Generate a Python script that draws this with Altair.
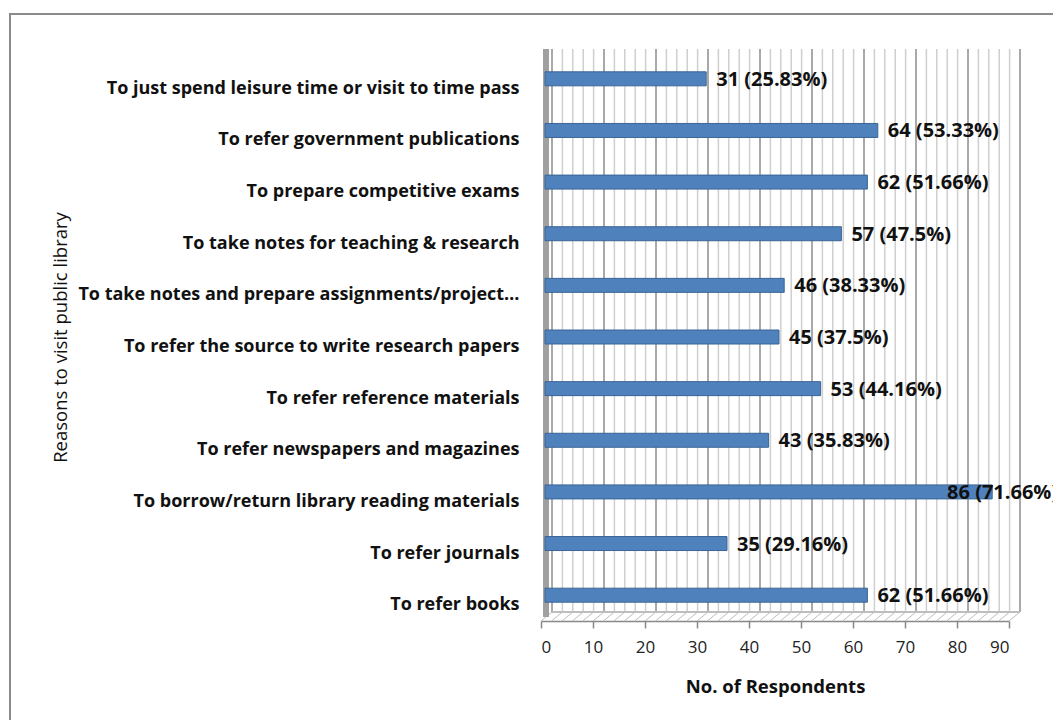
import altair as alt
import pandas as pd

reasons = [
    "To just spend leisure time or visit to time pass",
    "To refer government publications",
    "To prepare competitive exams",
    "To take notes for teaching & research ",
    "To take notes and prepare assignments/project…",
    "To refer the source to write research papers",
    "To refer reference materials",
    "To refer newspapers and magazines",
    "To borrow/return library reading materials",
    "To refer journals",
    "To refer books",
]
counts = [31, 64, 62, 57, 46, 45, 53, 43, 86, 35, 62]
percents = ["25.83", "53.33", "51.66", "47.5", "38.33", "37.5", "44.16", "35.83", "71.66", "29.16", "51.66"]
major_ticks = [0, 10, 20, 30, 40, 50, 60, 70, 80, 90]
minor_grid = [v for v in range(0, 91, 2)]

df = pd.DataFrame({"reason": reasons, "count": counts, "pct": percents})
df["label"] = df["count"].astype(str) + " (" + df["pct"] + "%)"
grid_df = pd.DataFrame({"g": minor_grid})
grid_df["major"] = grid_df["g"] % 10 == 0

FONT = "Open Sans"
W, H = 468, 568
DEPTH = 11

ysort = alt.Sort(reasons)
x_scale = alt.Scale(domain=[0, 90], nice=False, zero=True)
grid_color = alt.Color("major:N", scale=alt.Scale(domain=[True, False], range=["#8C8C8C", "#CFCFCF"]), legend=None)

grid = alt.Chart(grid_df).mark_rule(strokeWidth=1.5, xOffset=DEPTH).encode(
    x=alt.X("g:Q", scale=x_scale),
    y=alt.value(-4),
    y2=alt.value(H - 9),
    color=grid_color,
)

floor = alt.Chart(grid_df).mark_rule(strokeWidth=1, x2Offset=DEPTH, color="#BDBDBD").encode(
    x=alt.X("g:Q", scale=x_scale),
    x2="g:Q",
    y=alt.value(H),
    y2=alt.value(H - 9),
)

floor_back = alt.Chart(df).mark_rule(color="#BDBDBD", strokeWidth=1).encode(
    x=alt.value(DEPTH), x2=alt.value(W + DEPTH), y=alt.value(H - 9)
)

base = alt.Chart(df)

bars = base.mark_bar(size=14, color="#4F81BD", stroke="#3A6595", strokeWidth=1, xOffset=4).encode(
    x=alt.X(
        "count:Q",
        scale=x_scale,
        title="No. of Respondents",
        axis=alt.Axis(
            values=major_ticks,
            grid=False,
            labelOverlap=False,
            tickColor="#888888",
            tickSize=7,
            tickWidth=1.5,
            domainColor="#888888",
            domainWidth=1.5,
            labelFont=FONT,
            labelFontSize=17,
            labelColor="#222222",
            labelPadding=11,
            titleFont=FONT,
            titleFontSize=18.5,
            titleFontWeight="bold",
            titleColor="#111111",
            titlePadding=22,
        ),
    ),
    y=alt.Y(
        "reason:N",
        sort=ysort,
        title="Reasons to visit public library",
        scale=alt.Scale(paddingInner=0.0, paddingOuter=0.0),
        axis=alt.Axis(
            ticks=False,
            domain=False,
            labelFont=FONT,
            labelFontSize=18,
            labelFontWeight="bold",
            labelColor="#111111",
            labelPadding=22,
            labelLimit=600,
            labelOffset=10,
            titleFont=FONT,
            titleFontSize=18.5,
            titleFontWeight="normal",
            titleColor="#111111",
            titleX=-481,
            titleY=H / 2,
            titleAngle=-90,
            titleAlign="center",
            titleBaseline="middle",
        ),
    ),
)

labels = base.transform_calculate(
    lx="datum.count > 80 ? datum.count - 10.6 : datum.count"
).mark_text(
    align="left", baseline="middle", font=FONT, fontSize=20, fontWeight="bold", color="#111111", dx=14, dy=1
).encode(
    x=alt.X("lx:Q", scale=x_scale),
    y=alt.Y("reason:N", sort=ysort),
    text="label:N",
)

left_wall = alt.Chart(df).mark_rule(color="#A0A0A0", strokeWidth=6).encode(
    x=alt.value(5), y=alt.value(-4), y2=alt.value(H - 4)
)

border = alt.Chart(df).mark_rect(fill=None, stroke="#8A8A8A", strokeWidth=2).encode(
    x=alt.value(-531), x2=alt.value(600), y=alt.value(-39), y2=alt.value(720)
)

chart = alt.layer(grid, floor, floor_back, left_wall, bars, labels, border).properties(
    width=W,
    height=H,
    autosize=alt.AutoSizeParams(type="none"),
    padding={"left": 541, "top": 53, "right": 44, "bottom": 99},
    background="white",
).configure_view(stroke=None)

chart.save("out.html", embed_options={"renderer": "svg", "actions": False})
